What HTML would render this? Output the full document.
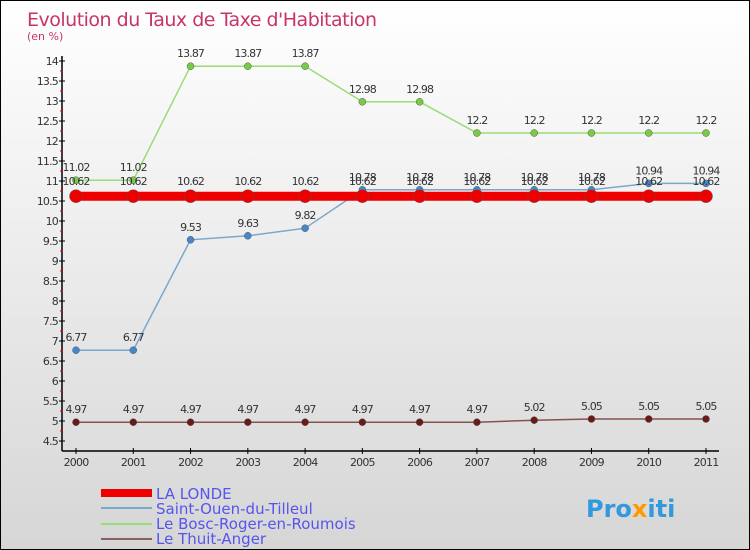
<!DOCTYPE html>
<html><head><meta charset="utf-8"><style>
body{margin:0}
#c{width:750px;height:550px;position:relative;box-sizing:border-box;border:1px solid #000;background:linear-gradient(#ffffff,#d6d6d6);font-family:"DejaVu Sans","Liberation Sans",sans-serif;overflow:hidden}
svg text{font-family:"DejaVu Sans","Liberation Sans",sans-serif}
</style></head><body>
<div id="c">
<svg id="s" width="750" height="550">
<text x="26" y="25" font-size="19" fill="#c8336a" style="letter-spacing:-0.5px">Evolution du Taux de Taxe d'Habitation</text>
<text x="26" y="39" font-size="11" fill="#c8336a">(en %)</text>
<g id="axes"></g><g id="series"></g>
<g>
<rect x="100" y="488" width="51" height="8" fill="#ee0000"/>
<text x="155" y="498" font-size="15" fill="#5555ee">LA LONDE</text>
<rect x="100" y="506" width="51" height="2" fill="#7aa7cc"/>
<text x="155" y="513" font-size="15" fill="#5555ee">Saint-Ouen-du-Tilleul</text>
<rect x="100" y="522" width="51" height="2" fill="#99dd77"/>
<text x="155" y="528" font-size="15" fill="#5555ee">Le Bosc-Roger-en-Roumois</text>
<rect x="100" y="537" width="51" height="2" fill="#8a6060"/>
<text x="155" y="543" font-size="15" fill="#5555ee">Le Thuit-Anger</text>
</g>
<text x="585" y="516" font-size="24" font-weight="bold" fill="#3399dd">Pro<tspan fill="#ff9900">x</tspan>iti</text>
</svg>
</div>
<script>
const years=[2000,2001,2002,2003,2004,2005,2006,2007,2008,2009,2010,2011];
const laLonde=[10.62,10.62,10.62,10.62,10.62,10.62,10.62,10.62,10.62,10.62,10.62,10.62];
const saintOuen=[6.77,6.77,9.53,9.63,9.82,10.78,10.78,10.78,10.78,10.78,10.94,10.94];
const boscRoger=[11.02,11.02,13.87,13.87,13.87,12.98,12.98,12.2,12.2,12.2,12.2,12.2];
const thuitAnger=[4.97,4.97,4.97,4.97,4.97,4.97,4.97,4.97,5.02,5.05,5.05,5.05];
const yTicks=[4.5,5,5.5,6,6.5,7,7.5,8,8.5,9,9.5,10,10.5,11,11.5,12,12.5,13,13.5,14];
const NS="http://www.w3.org/2000/svg";
const xs=i=>75+i*(630/11);
const ys=v=>420-(v-5)*40;
function mk(tag,attrs,parent){const e=document.createElementNS(NS,tag);for(const k in attrs)e.setAttribute(k,attrs[k]);parent.appendChild(e);return e;}
const ax=document.getElementById('axes');
let a=mk('line',{x1:61,y1:55,x2:61,y2:450,stroke:'#000','stroke-width':1.5},ax);


a=mk('line',{x1:61,y1:450,x2:718,y2:450,stroke:'#000','stroke-width':1.5},ax);


yTicks.forEach((v,k)=>{const y=ys(v);
 let t=mk('line',{x1:58,y1:y,x2:64,y2:y,stroke:'#000'},ax);
 
 
 if(k<yTicks.length-1){
 let m=mk('line',{x1:59,y1:y-10,x2:62,y2:y-10,stroke:'#e00'},ax);
 
 
 }
 let l=mk('text',{x:57,y:y+4,'font-size':11,fill:'#333','text-anchor':'end','letter-spacing':'-0.8'},ax);l.textContent=String(v);
 
 
});
years.forEach((yr,i)=>{const x=xs(i);
 let t=mk('line',{x1:x,y1:447,x2:x,y2:453,stroke:'#000'},ax);
 
 
 let l=mk('text',{x:x,y:465,'font-size':11,fill:'#333','text-anchor':'middle','letter-spacing':'-0.8'},ax);l.textContent=yr;
 
 
});
const sg=document.getElementById('series');
function draw(data,name,color,lw,r,dot,labelOff){
 const g=mk('g',{},sg);
 
 
 const p=mk('polyline',{points:data.map((v,i)=>xs(i)+','+ys(v)).join(' '),fill:'none',stroke:color,'stroke-width':lw},g);
 
 
 data.forEach((v,i)=>{
  const c=mk('circle',{cx:xs(i),cy:ys(v),r:r,fill:dot,stroke:'#555','stroke-width':0.5},g);
  
  
  const t=mk('text',{x:xs(i),y:ys(v)+labelOff,'font-size':11,fill:'#333','text-anchor':'middle','letter-spacing':'-0.9'},g);
  t.textContent=String(v);
  
  
 });
}
draw(thuitAnger,'thuit-anger','#8a5050',1.5,3.5,'#6b1a1a',-9);
draw(boscRoger,'bosc-roger','#99dd77',1.5,3.5,'#77cc44',-9);
draw(saintOuen,'saint-ouen','#7aa7cc',1.5,3.5,'#4488cc',-9);
draw(laLonde,'la-londe','#ee0000',9,6.5,'#ee0000',-11);
</script>
</body></html>
